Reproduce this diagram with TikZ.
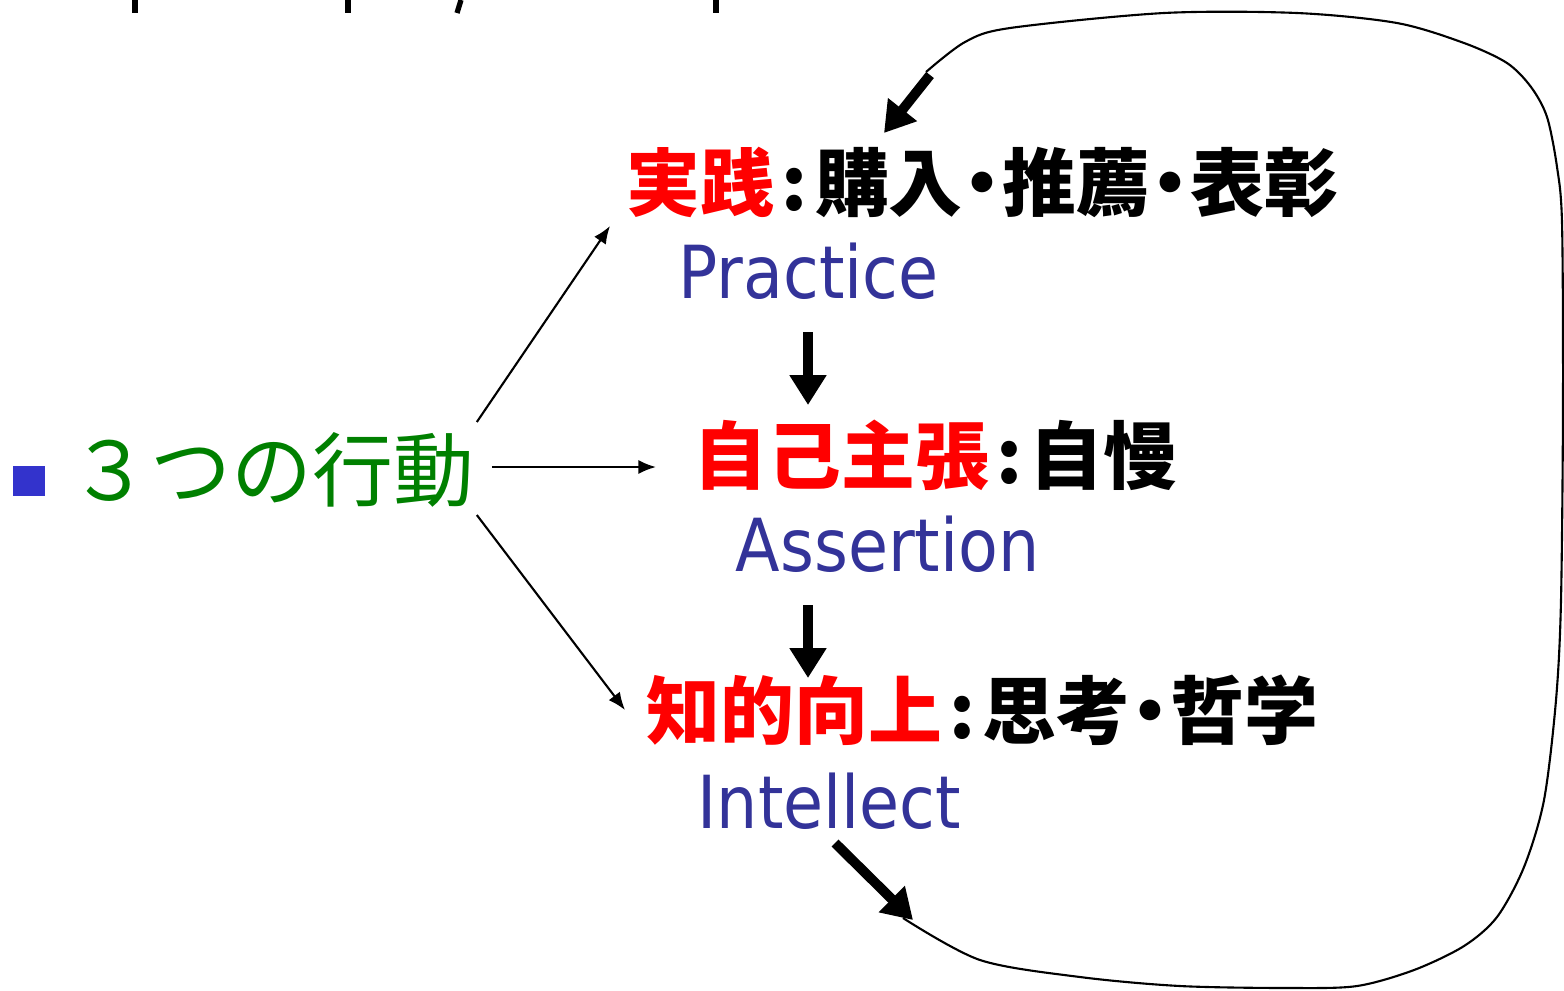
\documentclass[tikz,border=0pt]{standalone}
\usepackage{fontspec}
\usetikzlibrary{arrows.meta}
\newfontfamily\jpfont{Noto Sans CJK JP}
\newfontfamily\enfont{DejaVu Sans}[FakeStretch=0.89]
\definecolor{actgreen}{HTML}{008000}
\definecolor{engblue}{HTML}{333399}
\definecolor{bulletblue}{HTML}{3333CC}
\newcommand{\middot}{\kern-0.23em・\kern-0.23em}
\tikzset{
  jp/.style={inner sep=0pt, anchor=west, font=\jpfont\bfseries\fontsize{21pt}{25pt}\selectfont},
  en/.style={inner sep=0pt, anchor=west, text=engblue, font=\enfont\fontsize{20.8pt}{25pt}\selectfont},
  branch/.style={-{Latex[length=5pt,width=4pt]}, line width=0.6pt},
  flow/.style={-{Triangle[length=8.5pt,width=10pt]}, line width=2.8pt},
  loopline/.style={line width=0.6pt},
}
\begin{document}
\begin{tikzpicture}[x=0.01cm,y=-0.01cm]
      \useasboundingbox (0,0) rectangle (1564,990);
      % cut-off strokes at the top edge
      \draw [line width=1.5pt] (135,0) -- (135,13);
      \draw [line width=1.5pt] (348,0) -- (348,13);
      \draw [line width=1.5pt] (461,0) -- (457,13);
      \draw [line width=1.5pt] (716,0) -- (716,13);

      \node [fill=bulletblue, minimum width=0.32cm, minimum height=0.3cm, inner sep=0pt] (bul) at (29,481) {};
      \node [jp, text=actgreen, font=\jpfont\fontsize{23pt}{27pt}\selectfont] (act) at (69,470) {３つの行動};

      \node [jp] (prac) at (626,182) {\textcolor{red}{実践}\kern0.1em:\kern0.1em 購入\middot 推薦\middot 表彰};
      \node [en] (pracen) at (678,271) {Practice};
      \node [jp] (asrt) at (693,455) {\textcolor{red}{自己主張}\kern0.1em:\kern0.1em 自慢};
      \node [en] (asrten) at (735,544) {Assertion};
      \node [jp] (intl) at (646,710) {\textcolor{red}{知的向上}\kern0.1em:\kern0.1em 思考\middot 哲学};
      \node [en] (intlen) at (697,801) {Intellect};

      \coordinate (tipP) at (610,226);
      \coordinate (tipA) at (656,467);
      \coordinate (tipI) at (625,710);
      \draw [branch] ([shift={(2,-48)}]act.east) -- (tipP);
      \draw [branch] ([shift={(17,-3)}]act.east) -- (tipA);
      \draw [branch] ([shift={(2,45)}]act.east) -- (tipI);

      \coordinate (d1a) at (808,332);
      \coordinate (d1b) at (808,405);
      \coordinate (d2a) at (808,605);
      \coordinate (d2b) at (808,678);
      \draw [flow] (d1a) -- (d1b);
      \draw [flow] (d2a) -- (d2b);

      % loop back to the top
      \coordinate (lpin) at (835,843);
      \coordinate (lpend) at (913,920);
      \coordinate (lpout) at (930,75);
      \coordinate (lptip) at (884,133);
      \draw [flow] (lpin) -- (lpend);
      \draw [loopline] plot [smooth] coordinates {(903,918) (980,960) (1080,977) (1180,986) (1290,988) (1357,986) (1414,970) (1464,946) (1497,917) (1524,867) (1544,800) (1556,700) (1561,600) (1563,400) (1562,223) (1557,167) (1547,117) (1531,87) (1507,63) (1464,43) (1397,23) (1297,13) (1164,13) (1010,28) (965,42) (926,72)};
      \draw [flow] (lpout) -- (lptip);
\end{tikzpicture}
\end{document}
